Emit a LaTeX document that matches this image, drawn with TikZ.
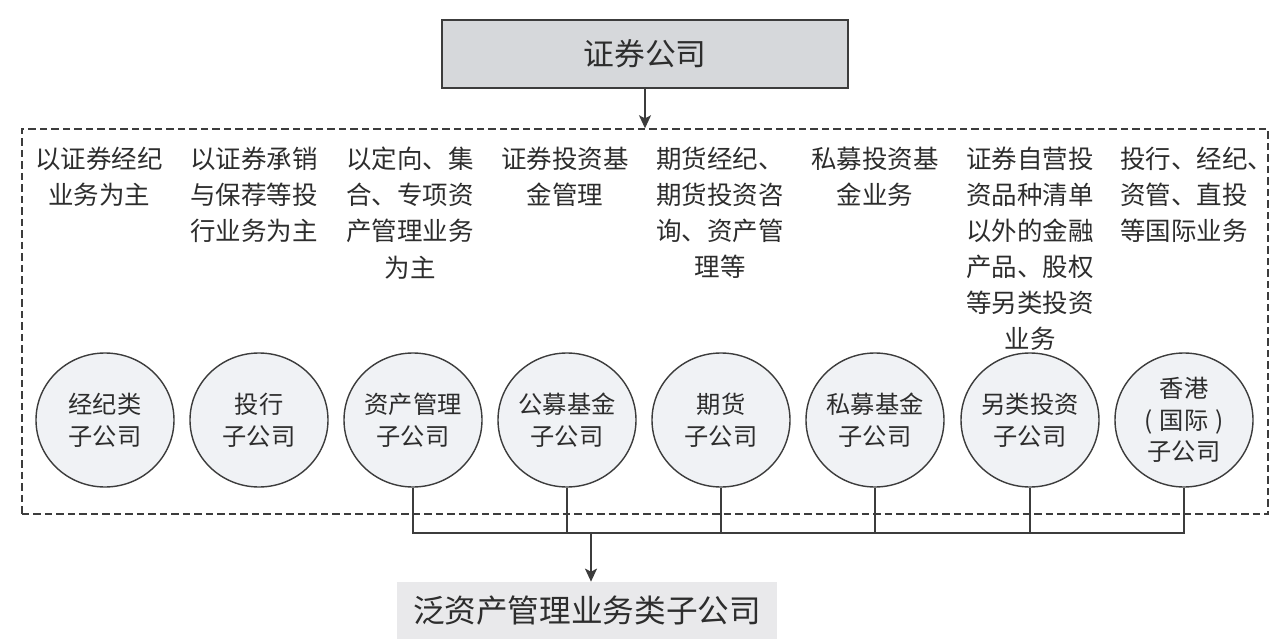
\documentclass[tikz,border=0pt]{standalone}
\usepackage{fontspec}
\setmainfont{Noto Sans CJK SC}
\usetikzlibrary{shapes.geometric, arrows.meta, positioning}
\definecolor{boxgray}{RGB}{214,216,219}
\definecolor{circfill}{RGB}{240,242,245}
\definecolor{basegray}{RGB}{233,233,235}
\definecolor{inkgray}{RGB}{60,60,60}
\definecolor{textgray}{RGB}{45,45,45}

\begin{document}
\begin{tikzpicture}[
    x=0.2mm, y=-0.2mm, text=textgray,
    parent/.style={rectangle, draw=inkgray, fill=boxgray, line width=0.8pt, minimum width=81.2mm, minimum height=13.6mm, font=\fontsize{17.5}{20}\selectfont},
    scopebox/.style={rectangle, draw=inkgray, dash pattern=on 1.5mm off 0.8mm, line width=0.8pt, minimum width=249.2mm, minimum height=77mm},
    duty/.style={anchor=north, align=center, inner sep=0pt, font=\fontsize{14.5}{20.5}\selectfont},
    sub/.style={ellipse, draw=inkgray, fill=circfill, line width=0.8pt, minimum width=27.6mm, minimum height=26.8mm, inner sep=0pt, align=center, font=\fontsize{13.8}{18}\selectfont},
    result/.style={rectangle, fill=basegray, minimum width=76mm, minimum height=11.4mm, font=\fontsize{18}{20}\selectfont},
    arrow/.style={draw=inkgray, -{Stealth[length=2.6mm, width=2.4mm, inset=0.6mm]}, line width=0.8pt},
    link/.style={draw=inkgray, line width=0.8pt}
]
\useasboundingbox (0,0) rectangle (1280,643);

\node [parent] (company) at (645,54) {证券公司};
\node [scopebox] (group) at (645,321.5) {};

% business scope of each subsidiary
\node [duty] (brokerduty) at (99,147) {以证券经纪\\业务为主};
\node [duty] (investduty) at (254,147) {以证券承销\\与保荐等投\\行业务为主};
\node [duty] (assetduty) at (410,147) {以定向、集\\合、专项资\\产管理业务\\为主};
\node [duty] (fundduty) at (565,147) {证券投资基\\金管理};
\node [duty] (futuresduty) at (720,147) {期货经纪、\\期货投资咨\\询、资产管\\理等};
\node [duty] (privateduty) at (875,147) {私募投资基\\金业务};
\node [duty] (altinvduty) at (1030,147) {证券自营投\\资品种清单\\以外的金融\\产品、股权\\等另类投资\\业务};
\node [duty, anchor=north west, align=left] (hkduty) at (1120,147) {投行、经纪、\\资管、直投\\等国际业务};

% subsidiaries
\node [sub] (broker) at (105,420) {经纪类\\子公司};
\node [sub] (invest) at (259,420) {投行\\子公司};
\node [sub] (asset) at (413,420) {资产管理\\子公司};
\node [sub] (fund) at (567,420) {公募基金\\子公司};
\node [sub] (futures) at (721,420) {期货\\子公司};
\node [sub] (private) at (875,420) {私募基金\\子公司};
\node [sub] (altinv) at (1030,420) {另类投资\\子公司};
\node [sub] (hk) at (1184,420) {香港\\(\hspace{0.3em}国际\hspace{0.3em})\\子公司};

\node [result] (target) at (587,610.5) {泛资产管理业务类子公司};
\coordinate (join) at (591,533);

\path [arrow] (company) -- (company.south |- group.north);
\path [link] (asset.south) |- (hk.south |- join) -- (hk.south);
\path [link] (fund.south) -- (fund.south |- join);
\path [link] (futures.south) -- (futures.south |- join);
\path [link] (private.south) -- (private.south |- join);
\path [link] (altinv.south) -- (altinv.south |- join);
\path [arrow] (join) -- (join |- target.north);
\end{tikzpicture}
\end{document}
